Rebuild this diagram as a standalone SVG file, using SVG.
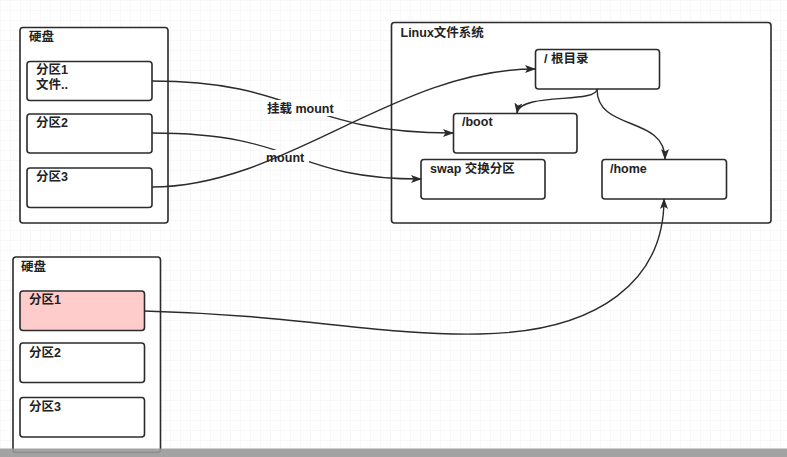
<svg xmlns="http://www.w3.org/2000/svg" width="787" height="457" viewBox="0 0 787 457">
<style>
.box{fill:#ffffff;stroke:#2b2b2b;stroke-width:1.6}
.pink{fill:#ffcccc}
.t{font-family:"Liberation Sans","Noto Sans CJK SC",sans-serif;font-size:12.5px;font-weight:bold;fill:#222}
.c{fill:none;stroke:#2b2b2b;stroke-width:1.4}
.lb{fill:#ffffff}
</style>
<defs>
<pattern id="grid" width="10" height="10" patternUnits="userSpaceOnUse">
<path d="M10,0 L0,0 L0,10" fill="none" stroke="#f2f2f2" stroke-width="1"/>
</pattern>
<marker id="arr" markerWidth="11" markerHeight="8" refX="10" refY="4" orient="auto" markerUnits="userSpaceOnUse">
<path d="M0,0 L11,4 L0,8 L2.5,4 z" fill="#2b2b2b"/>
</marker>
</defs>
<rect x="0" y="0" width="787" height="457" fill="#ffffff"/>
<rect x="0" y="0" width="787" height="457" fill="url(#grid)"/>

<g id="disk1">
<rect class="box" x="20" y="27.5" width="148" height="195.5" rx="3"/>
<text class="t" x="29" y="41">硬盘</text>
</g>
<g id="d1p1">
<rect class="box" x="27" y="61.5" width="125" height="39" rx="3"/>
<text class="t" x="36" y="74">分区1</text>
<text class="t" x="36" y="89">文件..</text>
</g>
<g id="d1p2">
<rect class="box" x="27" y="114" width="125" height="39" rx="3"/>
<text class="t" x="36" y="127">分区2</text>
</g>
<g id="d1p3">
<rect class="box" x="27" y="168" width="125" height="39.5" rx="3"/>
<text class="t" x="36" y="181">分区3</text>
</g>

<g id="linuxfs">
<rect class="box" x="391.5" y="22.5" width="379.5" height="200.5" rx="3"/>
<text class="t" x="400.5" y="36.5">Linux文件系统</text>
</g>
<g id="root">
<rect class="box" x="535.5" y="49.5" width="124" height="39.5" rx="3"/>
<text class="t" x="544" y="63">/ 根目录</text>
</g>
<g id="boot">
<rect class="box" x="453.5" y="113.5" width="123.5" height="39.5" rx="3"/>
<text class="t" x="462" y="126">/boot</text>
</g>
<g id="swap">
<rect class="box" x="421" y="159.5" width="124" height="39.5" rx="3"/>
<text class="t" x="430" y="173">swap 交换分区</text>
</g>
<g id="home">
<rect class="box" x="602" y="159.5" width="124.5" height="39.5" rx="3"/>
<text class="t" x="610" y="173">/home</text>
</g>

<g id="disk2">
<rect class="box" x="13" y="257" width="147.5" height="195.5" rx="3"/>
<text class="t" x="21" y="271">硬盘</text>
</g>
<g id="d2p1">
<rect class="box pink" x="20" y="291" width="124.5" height="39.5" rx="3"/>
<text class="t" x="29" y="303.5">分区1</text>
</g>
<g id="d2p2">
<rect class="box" x="20" y="343" width="124.5" height="39.5" rx="3"/>
<text class="t" x="29" y="356.5">分区2</text>
</g>
<g id="d2p3">
<rect class="box" x="20" y="397.5" width="124.5" height="39.5" rx="3"/>
<text class="t" x="29" y="410.5">分区3</text>
</g>

<g id="connectors">
<path class="c" d="M152,81 C300,81 300,133 453,133" marker-end="url(#arr)"/>
<rect class="lb" x="262" y="100" width="84" height="16"/>
<text class="t" x="267" y="113">挂载 mount</text>
<path class="c" d="M152,133 C300,133 290,179 421,179" marker-end="url(#arr)"/>
<rect class="lb" x="263" y="150" width="46" height="15"/>
<text class="t" x="266" y="162">mount</text>
<path class="c" d="M152,187 C285,187 395,69 535,69" marker-end="url(#arr)"/>
<path class="c" d="M597,89 C597,104 520,92 517,113" marker-end="url(#arr)"/>
<path class="c" d="M597,89 C597,132 665,115 665,159" marker-end="url(#arr)"/>
<path class="c" d="M144,311 C300,315 380,336 480,334 C600,332 664,280 664,199" marker-end="url(#arr)"/>
</g>

<rect x="0" y="448.5" width="787" height="8.5" fill="#999999" fill-opacity="0.9"/>
</svg>
